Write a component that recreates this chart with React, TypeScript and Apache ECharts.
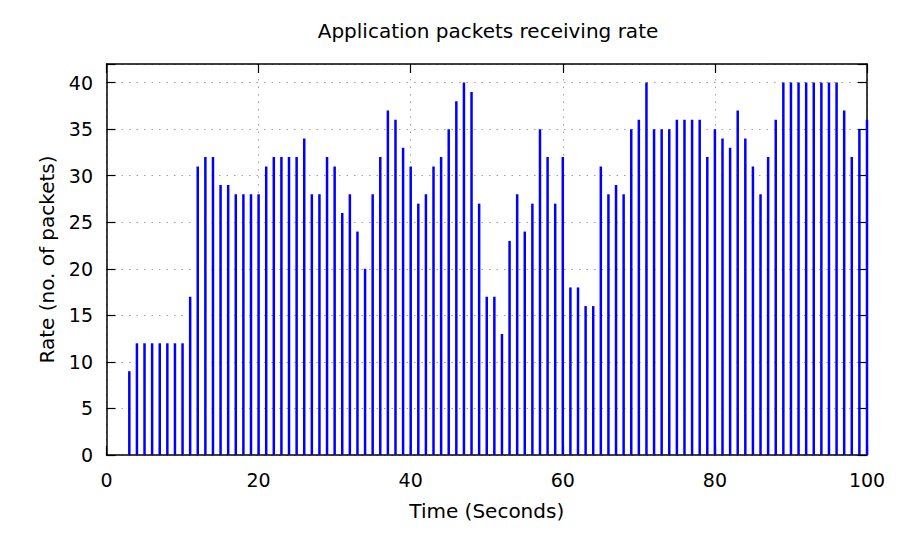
import * as echarts from "echarts";
import React, { useEffect, useRef } from "react";

// time of each sample (seconds) and packets received during that second
const seconds = [
  3, 4, 5, 6, 7, 8, 9, 10, 11, 12, 13, 14, 15, 16, 17, 18, 19, 20, 21, 22,
  23, 24, 25, 26, 27, 28, 29, 30, 31, 32, 33, 34, 35, 36, 37, 38, 39, 40, 41,
  42, 43, 44, 45, 46, 47, 48, 49, 50, 51, 52, 53, 54, 55, 56, 57, 58, 59, 60,
  61, 62, 63, 64, 65, 66, 67, 68, 69, 70, 71, 72, 73, 74, 75, 76, 77, 78, 79,
  80, 81, 82, 83, 84, 85, 86, 87, 88, 89, 90, 91, 92, 93, 94, 95, 96, 97, 98,
  99, 100,
];
const rates = [
  9, 12, 12, 12, 12, 12, 12, 12, 17, 31, 32, 32, 29, 29, 28, 28, 28, 28, 31,
  32, 32, 32, 32, 34, 28, 28, 32, 31, 26, 28, 24, 20, 28, 32, 37, 36, 33, 31,
  27, 28, 31, 32, 35, 38, 40, 39, 27, 17, 17, 13, 23, 28, 24, 27, 35, 32, 27,
  32, 18, 18, 16, 16, 31, 28, 29, 28, 35, 36, 40, 35, 35, 35, 36, 36, 36, 36,
  32, 35, 34, 33, 37, 34, 31, 28, 32, 36, 40, 40, 40, 40, 40, 40, 40, 40, 37,
  32, 35, 36,
];
const yTicks = [0, 5, 10, 15, 20, 25, 30, 35, 40];

const font = { fontFamily: "DejaVu Sans", fontSize: 19, color: "#000" };
const nameFont = { ...font, fontSize: 20 };
const border = { show: true, onZero: false, lineStyle: { color: "#000", width: 1.5 } };
const ticks = { show: true, inside: true, length: 9, lineStyle: { color: "#000", width: 1.2 } };
const grid = { show: true, lineStyle: { color: "#a0a0a0", width: 1, type: [1.5, 6] as number[] } };

const App: React.FC = () => {
  const chartRef = useRef<HTMLDivElement | null>(null);

  useEffect(() => {
    const chart = echarts.init(chartRef.current, null, { renderer: "svg" });
    chart.setOption({
      animation: false,
      title: {
        text: "Application packets receiving rate",
        left: 483,
        top: 16,
        textAlign: "center",
        textStyle: { ...nameFont, fontWeight: "normal" },
      },
      grid: { left: 106.5, right: 35, top: 64, bottom: 82 },
      xAxis: [
        {
          type: "value",
          min: 0,
          max: 100,
          interval: 20,
          name: "Time (Seconds)",
          nameLocation: "middle",
          nameGap: 46,
          nameTextStyle: nameFont,
          axisLine: border,
          axisTick: ticks,
          axisLabel: { ...font, margin: 15 },
          splitLine: grid,
        },
        {
          type: "value",
          position: "top",
          min: 0,
          max: 100,
          interval: 20,
          axisLine: border,
          axisTick: ticks,
          axisLabel: { show: false },
          splitLine: { show: false },
        },
      ],
      yAxis: [
        {
          type: "value",
          min: 0,
          max: 42,
          interval: 5,
          name: "Rate (no. of packets)",
          nameLocation: "middle",
          nameGap: 50,
          nameTextStyle: nameFont,
          axisLine: border,
          axisTick: ticks,
          axisLabel: {
            ...font,
            margin: 13.5,
            formatter: (v: number) => (yTicks.includes(v) ? String(v) : ""),
          },
          splitLine: grid,
        },
        {
          type: "value",
          position: "right",
          min: 0,
          max: 42,
          interval: 5,
          axisLine: border,
          axisTick: ticks,
          axisLabel: { show: false },
          splitLine: { show: false },
        },
      ],
      series: [
        {
          type: "bar",
          xAxisIndex: 0,
          yAxisIndex: 0,
          barWidth: 2.5,
          itemStyle: { color: "#0000ff" },
          data: seconds.map((s, i) => [s, rates[i]]),
        },
      ],
    });

    return () => {
      chart.dispose();
    };
  }, []);

  return (
    <div
      ref={chartRef}
      style={{ position: "fixed", left: 0, top: 0, width: "902px", height: "537px", background: "#fff" }}
    ></div>
  );
};

export default App;
